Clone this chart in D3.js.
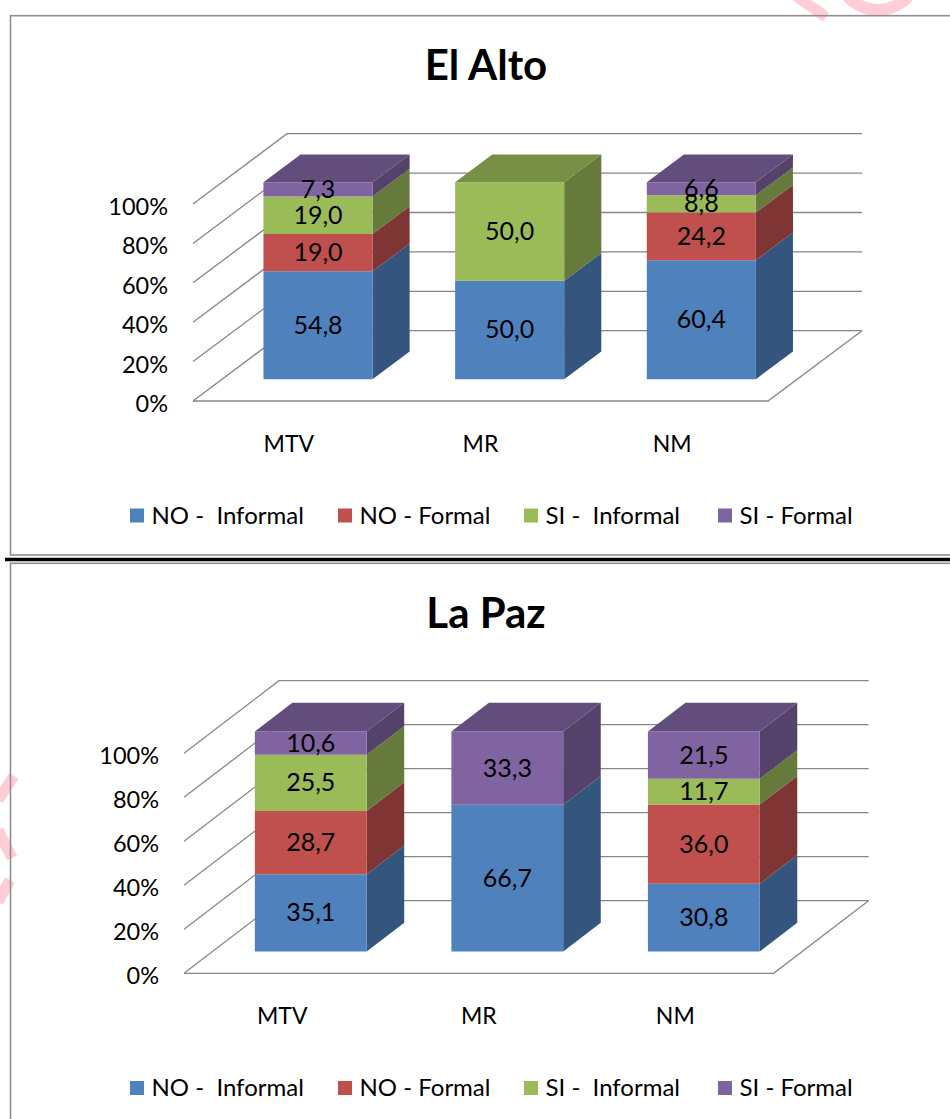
<!DOCTYPE html>
<html>
<head>
<meta charset="utf-8">
<script src="https://cdn.jsdelivr.net/npm/d3@7"></script>
<style>
  html, body { margin: 0; padding: 0; background: #ffffff; }
  svg { display: block; font-family: Lato, "Open Sans", "DejaVu Sans", sans-serif; }
</style>
</head>
<body>
<script>
// ---------------- DATA ----------------
const categories = ["MTV", "MR", "NM"];
const seriesNames = ["NO -  Informal", "NO - Formal", "SI -  Informal", "SI - Formal"];
const seriesColors = ["#4F81BD", "#C0504D", "#9BBB59", "#8064A2"];
const tickValues = [0, 20, 40, 60, 80, 100];
const tickLabels = ["0%", "20%", "40%", "60%", "80%", "100%"];

// El Alto
const elAltoNOInformal = [54.8, 50.0, 60.4];
const elAltoNOFormal   = [19.0, 0, 24.2];
const elAltoSIInformal = [19.0, 50.0, 8.8];
const elAltoSIFormal   = [7.3, 0, 6.6];

// La Paz
const laPazNOInformal = [35.1, 66.7, 30.8];
const laPazNOFormal   = [28.7, 0, 36.0];
const laPazSIInformal = [25.5, 0, 11.7];
const laPazSIFormal   = [10.6, 33.3, 21.5];

// ---------------- DRAW ----------------
const W = 950, H = 1119;
const svg = d3.select("body").append("svg").attr("width", W).attr("height", H);
const fmt = d3.formatLocale({ decimal: ",", thousands: ".", grouping: [3], currency: ["", ""] }).format(".1f");

// watermark fragments (faint pink)
const wm = svg.append("g").attr("fill", "none").attr("stroke", "#ffccd8").attr("stroke-width", 11).attr("stroke-linecap", "butt");
wm.append("path").attr("d", "M796,-4 L826,17");
wm.append("path").attr("d", d3.arc()({ innerRadius: 34, outerRadius: 46, startAngle: Math.PI * 0.62, endAngle: Math.PI * 1.32 })).attr("transform", "translate(878,-30)").attr("stroke", "none").attr("fill", "#ffccd8");
wm.append("path").attr("d", "M14,776 L-2,800");
wm.append("path").attr("d", "M-2,830 L12,858");
wm.append("path").attr("d", "M10,880 L-2,902");

// chart boxes
svg.append("rect").attr("x", 10.5).attr("y", 15.7).attr("width", 960).attr("height", 539.3)
  .attr("fill", "none").attr("stroke", "#8f8f8f").attr("stroke-width", 1.6);
svg.append("rect").attr("x", 10.5).attr("y", 563.3).attr("width", 960).attr("height", 600)
  .attr("fill", "none").attr("stroke", "#8f8f8f").attr("stroke-width", 1.6);
svg.append("line").attr("x1", 5).attr("x2", 950).attr("y1", 559.5).attr("y2", 559.5)
  .attr("stroke", "#000").attr("stroke-width", 3.6);

function drawChart(cfg, seriesArrays) {
  const g = svg.append("g");
  const x = d3.scaleBand().domain(categories).range([cfg.floorLeft, cfg.floorRight])
    .paddingInner(0.431).paddingOuter(0.2155);
  const y = d3.scaleLinear().domain([0, 1]).range([cfg.floorY, cfg.floorY - cfg.H]);
  const P = (sx, v, z) => [sx + cfg.Dx * z, y(v) - cfg.Dy * z];
  const line = d3.line();

  // title
  g.append("text").attr("x", 486).attr("y", cfg.titleY).attr("text-anchor", "middle")
    .attr("font-weight", 700).attr("font-size", 42).attr("fill", "#000").text(cfg.title);

  // walls & floor grid
  const grid = g.append("g").attr("fill", "none").attr("stroke", "#868686").attr("stroke-width", 1.3);
  tickValues.forEach(t => {
    const v = t / 100;
    grid.append("path").attr("d", line([P(cfg.floorLeft, v, 0), P(cfg.floorLeft, v, 1), P(cfg.floorRight, v, 1)]));
  });
  grid.append("path").attr("d", line([P(cfg.floorLeft, 0, 0), P(cfg.floorRight, 0, 0), P(cfg.floorRight, 0, 1)]));

  // tick labels
  const tl = g.append("g").attr("font-size", 23.5).attr("fill", "#000").attr("text-anchor", "end");
  tickValues.forEach((t, i) => {
    const p = P(cfg.floorLeft, t / 100, 0);
    tl.append("text").attr("x", cfg.floorLeft - 25).attr("y", p[1] + 11).text(tickLabels[i]);
  });

  // stacked data
  const keys = seriesNames;
  const rows = categories.map((c, i) => {
    const r = { cat: c };
    keys.forEach((k, s) => r[k] = seriesArrays[s][i]);
    return r;
  });
  const stacked = d3.stack().keys(keys).offset(d3.stackOffsetExpand)(rows);

  const bars = g.append("g");
  const labels = g.append("g").attr("font-size", 25).attr("fill", "#000").attr("text-anchor", "middle");
  categories.forEach((c, i) => {
    const xl = x(c), xr = xl + x.bandwidth();
    let lastIdx = -1;
    stacked.forEach((ser, s) => { if (ser[i][1] - ser[i][0] > 0) lastIdx = s; });
    stacked.forEach((ser, s) => {
      const [v0, v1] = ser[i];
      if (!(v1 - v0 > 0)) return;
      const base = d3.color(seriesColors[s]);
      const side = d3.rgb(base.r * 0.66, base.g * 0.66, base.b * 0.66);
      const top = d3.rgb(base.r * 0.77, base.g * 0.77, base.b * 0.77);
      bars.append("path").attr("fill", side)
        .attr("d", line([P(xr, v0, cfg.z0), P(xr, v0, cfg.z1), P(xr, v1, cfg.z1), P(xr, v1, cfg.z0)]) + "Z");
      bars.append("path").attr("fill", base)
        .attr("d", line([P(xl, v0, cfg.z0), P(xr, v0, cfg.z0), P(xr, v1, cfg.z0), P(xl, v1, cfg.z0)]) + "Z");
      if (s === lastIdx) {
        bars.append("path").attr("fill", top)
          .attr("d", line([P(xl, v1, cfg.z0), P(xr, v1, cfg.z0), P(xr, v1, cfg.z1), P(xl, v1, cfg.z1)]) + "Z");
      }
      const pm = P((xl + xr) / 2, (v0 + v1) / 2, cfg.z0);
      labels.append("text").attr("x", pm[0]).attr("y", pm[1] + 8.5).text(fmt(seriesArrays[s][i]));
    });
  });

  // category labels
  const cl = g.append("g").attr("font-size", 23).attr("fill", "#000").attr("text-anchor", "middle");
  categories.forEach(c => {
    cl.append("text").attr("x", x(c) + x.bandwidth() / 2).attr("y", cfg.floorY + 51).text(c);
  });

  // legend
  const legendX = [130, 338, 524, 718];
  const lg = g.append("g").attr("font-size", 24).attr("fill", "#000");
  seriesNames.forEach((n, s) => {
    lg.append("rect").attr("x", legendX[s]).attr("y", cfg.legendY - 7).attr("width", 14).attr("height", 14)
      .attr("fill", seriesColors[s]);
    lg.append("text").attr("x", legendX[s] + 21.5).attr("y", cfg.legendY + 8)
      .style("white-space", "pre").text(n);
  });
}

drawChart({
  title: "El Alto", titleY: 80,
  floorLeft: 193, floorRight: 768, floorY: 401, H: 197,
  Dx: 94, Dy: 70.3, z0: 0.31, z1: 0.705, legendY: 515.5
}, [elAltoNOInformal, elAltoNOFormal, elAltoSIInformal, elAltoSIFormal]);

drawChart({
  title: "La Paz", titleY: 628,
  floorLeft: 184, floorRight: 773.6, floorY: 973.3, H: 220,
  Dx: 95, Dy: 72.6, z0: 0.30, z1: 0.695, legendY: 1088
}, [laPazNOInformal, laPazNOFormal, laPazSIInformal, laPazSIFormal]);
</script>
</body>
</html>
